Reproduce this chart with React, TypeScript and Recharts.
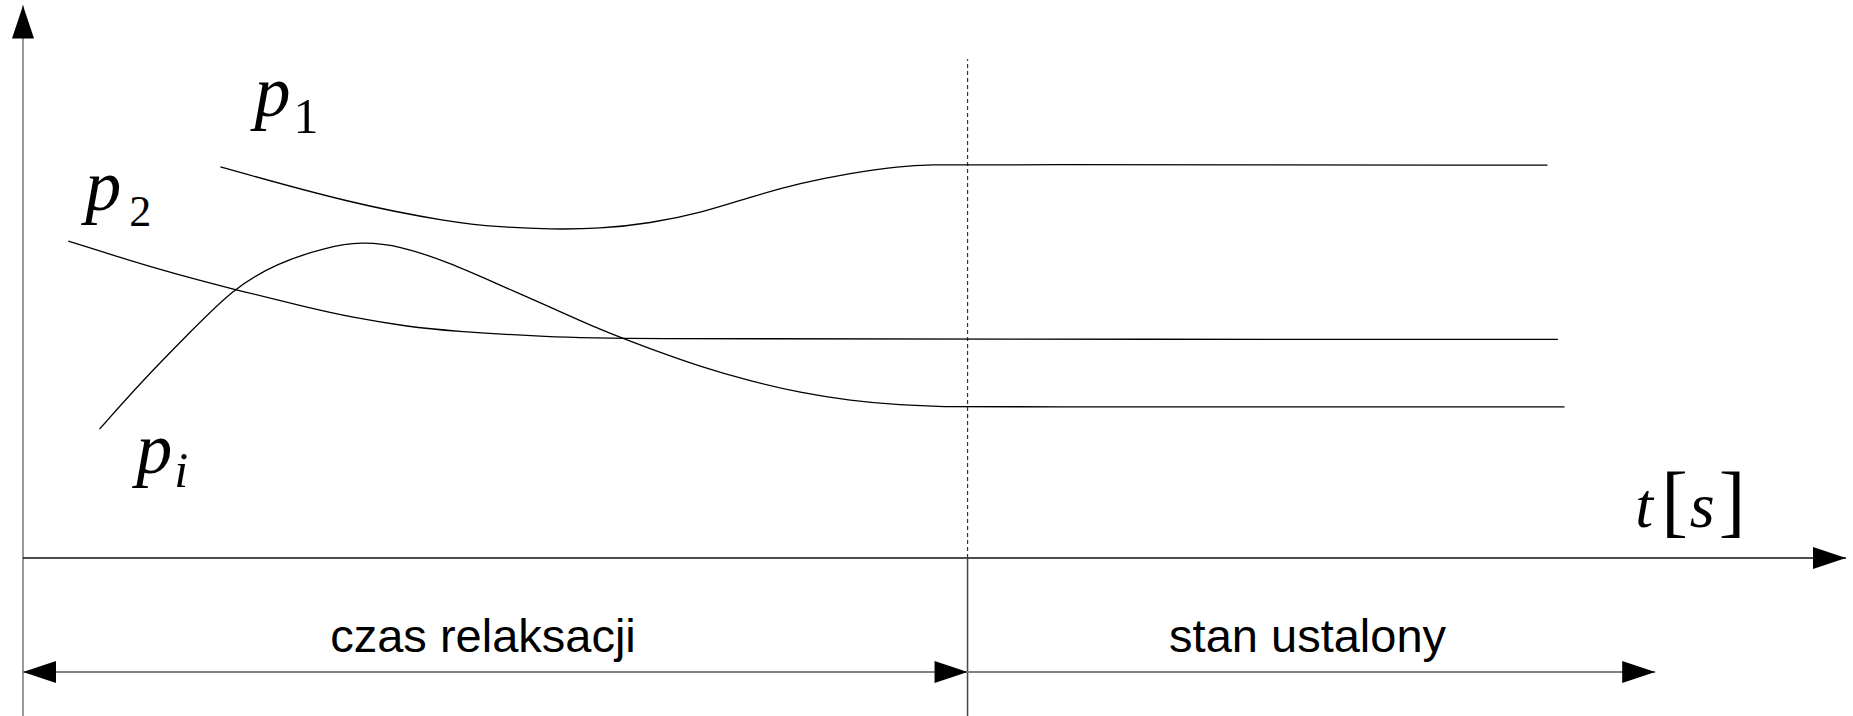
import { ComposedChart, Line, XAxis, YAxis, ReferenceLine, ReferenceDot } from "recharts"

// time axis [s] and value axis (arbitrary units)
const T_MAX = 19.3
const P_MIN = -2.83
const P_MAX = 10
const AXIS_TOP = 9.9
const RELAX_END = 10
const STEADY_END = 17.28
const DIVIDER_TOP = 8.94
const SPAN_LEVEL = -2.04

const p1Points = [
  { t: 2.09, p: 7.01 },
  { t: 3.46, p: 6.36 },
  { t: 4.52, p: 6.02 },
  { t: 5.05, p: 5.93 },
  { t: 5.58, p: 5.89 },
  { t: 6.11, p: 5.9 },
  { t: 6.64, p: 6.0 },
  { t: 7.17, p: 6.18 },
  { t: 7.7, p: 6.47 },
  { t: 8.23, p: 6.72 },
  { t: 8.76, p: 6.9 },
  { t: 9.28, p: 7.02 },
  { t: 9.63, p: 7.05 },
  { t: 10.0, p: 7.05 },
  { t: 16.14, p: 7.04 },
]

const p2Points = [
  { t: 0.48, p: 5.68 },
  { t: 1.45, p: 5.16 },
  { t: 2.22, p: 4.82 },
  { t: 3.04, p: 4.48 },
  { t: 3.46, p: 4.32 },
  { t: 4.1, p: 4.14 },
  { t: 4.52, p: 4.07 },
  { t: 5.58, p: 3.96 },
  { t: 6.32, p: 3.93 },
  { t: 10.0, p: 3.92 },
  { t: 16.25, p: 3.92 },
]

const piPoints = [
  { t: 0.81, p: 2.31 },
  { t: 1.27, p: 3.19 },
  { t: 1.8, p: 4.1 },
  { t: 2.22, p: 4.82 },
  { t: 2.69, p: 5.29 },
  { t: 3.22, p: 5.57 },
  { t: 3.57, p: 5.67 },
  { t: 3.99, p: 5.6 },
  { t: 4.52, p: 5.29 },
  { t: 5.05, p: 4.89 },
  { t: 5.58, p: 4.5 },
  { t: 6.11, p: 4.09 },
  { t: 6.64, p: 3.75 },
  { t: 7.17, p: 3.43 },
  { t: 7.7, p: 3.17 },
  { t: 8.23, p: 2.96 },
  { t: 8.76, p: 2.82 },
  { t: 9.28, p: 2.74 },
  { t: 9.81, p: 2.71 },
  { t: 10.0, p: 2.71 },
  { t: 16.32, p: 2.71 },
]

const spanLabels = [
  { text: "czas relaksacji", t: 4.87, p: -1.68 },
  { text: "stan ustalony", t: 13.6, p: -1.68 },
]

const seriesLabels = [
  { main: "p", sub: "1", subItalic: false, subSize: 50, dx: 3, dy: 17, t: 2.45, p: 7.92 },
  { main: "p", sub: "2", subItalic: false, subSize: 44, dx: 8, dy: 16, t: 0.66, p: 6.24 },
  { main: "p", sub: "i", subItalic: true, subSize: 50, dx: 2, dy: 14, t: 1.2, p: 1.52 },
]

const ARROW_L = 33
const ARROW_W = 11

function head(x: number, y: number, ang: number) {
  const bx = x - ARROW_L * Math.cos(ang)
  const by = y - ARROW_L * Math.sin(ang)
  const nx = -Math.sin(ang) * ARROW_W
  const ny = Math.cos(ang) * ARROW_W
  return `${x},${y} ${bx + nx},${by + ny} ${bx - nx},${by - ny}`
}

const arrowLine = (color: string, width: number, atStart: boolean, atEnd: boolean) => (props: any) => {
  const x1 = Number(props.x1), y1 = Number(props.y1), x2 = Number(props.x2), y2 = Number(props.y2)
  const ang = Math.atan2(y2 - y1, x2 - x1)
  return (
    <g>
      <line x1={x1} y1={y1} x2={x2} y2={y2} stroke={color} strokeWidth={width} />
      {atEnd && <polygon points={head(x2, y2, ang)} fill="#000" />}
      {atStart && <polygon points={head(x1, y1, ang + Math.PI)} fill="#000" />}
    </g>
  )
}

const sansText = (text: string) => (props: any) => (
  <text x={props.cx} y={props.cy} textAnchor="middle" fontFamily="Liberation Sans, Arial" fontSize={47} fill="#000">
    {text}
  </text>
)

const symbolText = (l: (typeof seriesLabels)[number]) => (props: any) => (
  <text x={props.cx} y={props.cy} fontFamily="Liberation Serif, Times New Roman" fill="#000">
    <tspan fontStyle="italic" fontSize={72}>{l.main}</tspan>
    <tspan fontStyle={l.subItalic ? "italic" : "normal"} fontSize={l.subSize} dx={l.dx} dy={l.dy}>
      {l.sub}
    </tspan>
  </text>
)

const axisUnit = (props: any) => (
  <text x={props.cx} y={props.cy} fontFamily="Liberation Serif, Times New Roman" fontSize={64} fill="#000">
    <tspan fontStyle="italic">t</tspan>
    <tspan fontSize={80} dx={8}>[</tspan>
    <tspan fontStyle="italic" dx={2}>s</tspan>
    <tspan fontSize={80} dx={4}>]</tspan>
  </text>
)

export default function App() {
  return (
    <div style={{ position: "absolute", left: 0, top: 0, background: "#fff" }}>
      <ComposedChart width={1853} height={716} margin={{ top: 0, right: 7, bottom: 0, left: 23 }}>
        <XAxis type="number" dataKey="t" domain={[0, T_MAX]} allowDataOverflow hide />
        <YAxis type="number" dataKey="p" domain={[P_MIN, P_MAX]} allowDataOverflow hide />

        {/* axes */}
        <ReferenceLine
          ifOverflow="visible"
          segment={[{ x: 0, y: P_MIN }, { x: 0, y: AXIS_TOP }]}
          shape={arrowLine("#808080", 1.6, false, true)}
        />
        <ReferenceLine
          ifOverflow="visible"
          segment={[{ x: 0, y: 0 }, { x: T_MAX, y: 0 }]}
          shape={arrowLine("#111", 1.6, false, true)}
        />

        {/* relaxation / steady state divider */}
        <ReferenceLine
          ifOverflow="visible"
          segment={[{ x: RELAX_END, y: 0 }, { x: RELAX_END, y: DIVIDER_TOP }]}
          stroke="#333"
          strokeWidth={1.2}
          strokeDasharray="4 3"
        />
        <ReferenceLine
          ifOverflow="visible"
          segment={[{ x: RELAX_END, y: P_MIN }, { x: RELAX_END, y: 0 }]}
          stroke="#444"
          strokeWidth={1.5}
        />

        {/* span arrows */}
        <ReferenceLine
          ifOverflow="visible"
          segment={[{ x: 0, y: SPAN_LEVEL }, { x: RELAX_END, y: SPAN_LEVEL }]}
          shape={arrowLine("#808080", 2, true, true)}
        />
        <ReferenceLine
          ifOverflow="visible"
          segment={[{ x: RELAX_END, y: SPAN_LEVEL }, { x: STEADY_END, y: SPAN_LEVEL }]}
          shape={arrowLine("#808080", 2, false, true)}
        />

        <Line data={p1Points} dataKey="p" type="basis" stroke="#000" strokeWidth={1.3} dot={false} isAnimationActive={false} />
        <Line data={p2Points} dataKey="p" type="basis" stroke="#000" strokeWidth={1.3} dot={false} isAnimationActive={false} />
        <Line data={piPoints} dataKey="p" type="basis" stroke="#000" strokeWidth={1.3} dot={false} isAnimationActive={false} />

        {spanLabels.map((l) => (
          <ReferenceDot key={l.text} x={l.t} y={l.p} r={0} ifOverflow="visible" shape={sansText(l.text)} />
        ))}
        {seriesLabels.map((l) => (
          <ReferenceDot key={l.sub} x={l.t} y={l.p} r={0} ifOverflow="visible" shape={symbolText(l)} />
        ))}
        <ReferenceDot x={17.07} y={0.56} r={0} ifOverflow="visible" shape={axisUnit} />
      </ComposedChart>
    </div>
  )
}
